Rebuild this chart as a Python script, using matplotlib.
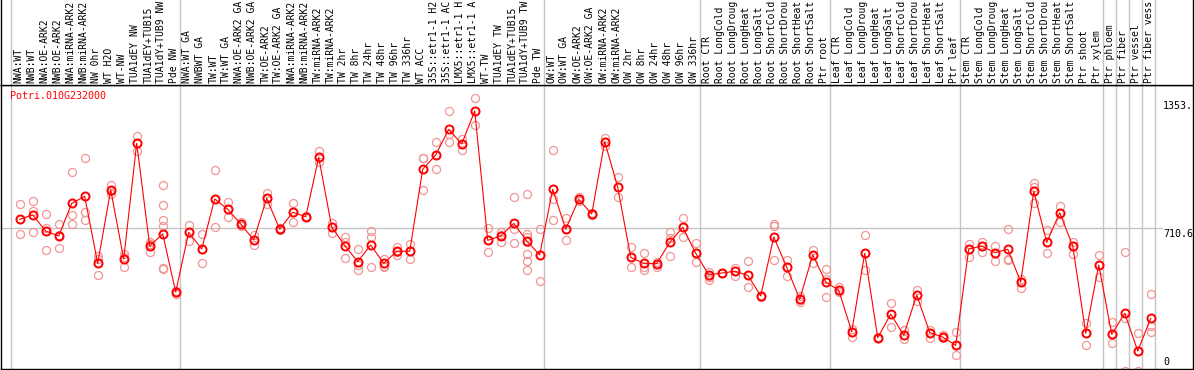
import matplotlib
matplotlib.use("Agg")
import matplotlib.pyplot as plt

# gene expression profile
gene = "Potri.010G232000"

# sample names as far as they are visible in the header strip
samples = [
    "NWA:WT", "NWB:WT", "NWA:OE-ARK2", "NWB:OE-ARK2", "NWA:miRNA-ARK2",
    "NWB:miRNA-ARK2", "NW 0hr", "WT H2O", "WT-NW", "TUA1dEY NW",
    "TUA1dEY+TUB15", "TUA1dY+TUB9 NW", "Pde NW",
    "NWA:WT GA", "NWBWT GA", "TW:WT", "TW:WT GA", "NWA:OE-ARK2 GA",
    "NWB:OE-ARK2 GA", "TW:OE-ARK2", "TW:OE-ARK2 GA", "NWA:miRNA-ARK2",
    "NWB:miRNA-ARK2", "TW:miRNA-ARK2", "TW:miRNA-ARK2", "TW 2hr", "TW 8hr",
    "TW 24hr", "TW 48hr", "TW 96hr", "TW 336hr", "WT ACC",
    "35S::etr1-1 H2", "35S::etr1-1 AC", "LMX5::etr1-1 H",
    "LMX5::etr1-1 A", "WT-TW", "TUA1dEY TW", "TUA1dEY+TUB15",
    "TUA1dY+TUB9 TW", "Pde TW",
    "OW:WT", "OW:WT GA", "OW:OE-ARK2", "OW:OE-ARK2 GA", "OW:miRNA-ARK2",
    "OW:miRNA-ARK2", "OW 2hr", "OW 8hr", "OW 24hr", "OW 48hr", "OW 96hr",
    "OW 336hr",
    "Root CTR", "Root LongCold", "Root LongDroug", "Root LongHeat",
    "Root LongSalt", "Root ShortCold", "Root ShortDrou", "Root ShortHeat",
    "Root ShortSalt", "Ptr root",
    "Leaf CTR", "Leaf LongCold", "Leaf LongDroug", "Leaf LongHeat",
    "Leaf LongSalt", "Leaf ShortCold", "Leaf ShortDrou", "Leaf ShortHeat",
    "Leaf ShortSalt", "Ptr leaf",
    "Stem CTR", "Stem LongCold", "Stem LongDroug", "Stem LongHeat",
    "Stem LongSalt", "Stem ShortCold", "Stem ShortDrou", "Stem ShortHeat",
    "Stem ShortSalt", "Ptr shoot", "Ptr xylem",
    "Ptr phloem", "Ptr fiber", "Ptr vessel", "Ptr fiber vess",
]

means = [
    752, 774, 694, 670, 831, 866, 534, 898, 556, 1129, 620, 680, 392,
    688, 605, 853, 802, 729, 650, 856, 703, 787, 765, 1059, 714, 622, 543,
    625, 534, 594, 594, 1000, 1071, 1198, 1125, 1289, 648, 670, 732, 645, 576,
    901, 703, 851, 779, 1137, 911, 564, 534, 533, 638, 713, 584,
    477, 486, 495, 475, 373, 665, 515, 356, 576, 442,
    401, 196, 584, 166, 283, 179, 377, 191, 169, 128,
    605, 620, 587, 604, 442, 891, 638, 785, 620, 188, 526,
    183, 287, 100, 262,
]

reps = [
    [827, 752, 678], [843, 795, 688], [777, 708, 599], [727, 673, 609],
    [985, 772, 731], [1054, 790, 751], [572, 554, 475], [922, 894, 876],
    [579, 567, 516], [1165, 1129, 1089], [642, 628, 589],
    [921, 822, 749, 719, 510, 506], [397, 392, 382],
    [724, 688, 647], [680, 605, 534], [997, 853, 714], [838, 802, 765],
    [741, 729, 719], [675, 650, 625], [884, 856, 828], [708, 703, 698],
    [835, 787, 737], [769, 765, 762], [1091, 1059, 1038], [736, 714, 686],
    [665, 638, 561], [604, 526, 500], [696, 663, 516], [556, 523, 518],
    [614, 589, 577], [630, 594, 554], [1058, 1054, 896], [1134, 1071, 1000],
    [1287, 1173, 1134], [1152, 1125, 1094], [1353, 1289, 1219],
    [709, 648, 589], [691, 675, 642], [861, 703, 633],
    [876, 680, 666, 640, 581, 544, 500], [703, 576, 447],
    [1094, 855, 749], [757, 703, 648], [861, 851, 841], [785, 779, 772],
    [1153, 1137, 1115], [960, 911, 861], [615, 564, 518], [584, 518, 501],
    [543, 533, 515], [688, 658, 569], [757, 713, 666], [633, 584, 539],
    [493, 468, 452], [488, 486, 485], [513, 495, 472], [544, 475, 415],
    [374, 373, 369], [727, 719, 549], [551, 515, 470], [373, 353, 344],
    [600, 576, 534], [505, 458, 366],
    [419, 401, 391], [207, 196, 168], [675, 584, 501], [171, 166, 163],
    [336, 283, 221], [204, 179, 158], [402, 377, 349], [204, 191, 163],
    [179, 169, 163], [194, 128, 79],
    [630, 605, 567], [642, 620, 592], [622, 587, 548], [703, 557, 551],
    [455, 442, 414], [931, 914, 831], [699, 638, 587], [818, 785, 741],
    [642, 620, 581], [237, 188, 128], [576, 526, 468],
    [245, 183, 141], [592, 262, 0], [188, 100, 0], [382, 224, 193],
]

# first sample index of each tissue block (last = end)
groups = [0, 13, 41, 53, 63, 73, 84, 85, 86, 87, 88]

yticks = [1353.2, 710.6, 0]
ytick_labels = ["1353.", "710.6", "0"]

W, H = 1194, 370
mono = "DejaVu Sans Mono"
grid = "#c4c4c4"

fig = plt.figure(figsize=(W / 100, H / 100), dpi=100)
ax = fig.add_axes([1 / W, 1 / H, 1192 / W, 284 / H])
lab = fig.add_axes([1 / W, 285 / H, 1192 / W, 85 / H])

xlim = (-1.438, 90.25)
for a in (ax, lab):
    a.set_xlim(*xlim)
    a.set_xticks([])
    a.set_yticks([])
    for s in a.spines.values():
        s.set_color("black")
        s.set_linewidth(1)
    for b in groups:
        a.axvline(b - 0.65, color=grid, lw=1, zorder=0)
lab.spines["top"].set_visible(False)
lab.set_ylim(0, 1)
ax.set_ylim(10.9, 1417.4)

# horizontal reference line stops before the tick labels
ax.axhline(yticks[1], xmin=0, xmax=(1162 - 1) / 1192, color=grid, lw=1, zorder=0)

x = list(range(len(samples)))
for i, r in enumerate(reps):
    ax.plot([i] * len(r), r, "o", mfc="none", mec="#f29595", ms=5.8, mew=0.9, zorder=2)
ax.plot(x, means, "-", color="red", lw=0.8, zorder=3)
ax.plot(x, means, "o", mfc="none", mec="red", ms=5.8, mew=1.4, zorder=4)

ax.text(0.0076, 0.979, gene, transform=ax.transAxes, color="red",
        fontsize=7.2, family=mono, va="top", ha="left")

for i, name in enumerate(samples):
    lab.text(i - 0.1, 0.0235, name, rotation=90, ha="center", va="bottom",
             fontsize=7.0, family=mono, transform=lab.get_xaxis_transform())

# value labels on the right side
offsets = [-3, -1, 14]
for v, t, dy in zip(yticks, ytick_labels, offsets):
    ax.annotate(t, xy=((1163 - 1) / 1192, v), xycoords=ax.get_yaxis_transform(),
                xytext=(0, dy), textcoords="offset pixels", va="top", ha="left",
                fontsize=7.2, family=mono)

fig.savefig("out.png", dpi=100)
